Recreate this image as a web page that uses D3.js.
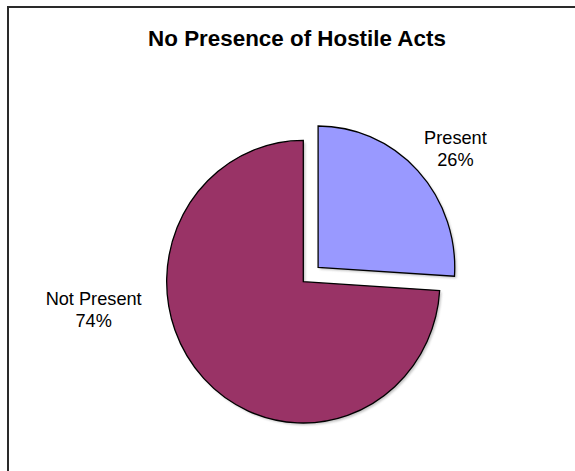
<!DOCTYPE html>
<html>
<head>
<meta charset="utf-8">
<script src="https://cdn.jsdelivr.net/npm/d3@7"></script>
<style>
  html, body { margin: 0; padding: 0; background: #fff; }
  svg { display: block; }
  text { font-family: "Liberation Sans", Arial, sans-serif; fill: #000; }
</style>
</head>
<body>
<svg id="chart" width="575" height="471"></svg>
<script>
const title = "No Presence of Hostile Acts";
const categories = ["Present", "Not Present"];
const values = [26, 74];
const colors = ["#9999FF", "#993366"];
const exploded = [true, false];

const W = 575, H = 471;
const svg = d3.select("#chart");

// frame (clipped by the image on the right and bottom)
svg.append("rect")
  .attr("x", 8).attr("y", 7)
  .attr("width", W + 20).attr("height", H + 20)
  .attr("fill", "none").attr("stroke", "#2a2a2a").attr("stroke-width", 2);

svg.append("text")
  .attr("x", 297).attr("y", 46)
  .attr("text-anchor", "middle")
  .attr("font-size", 22.4).attr("font-weight", "bold")
  .text(title);

const cx = 303.3, cy = 281.7, r = 141.3, sx = 0.967, explode = 21;
const total = d3.sum(values);
const pie = d3.pie().sort(null).startAngle(0).endAngle(2 * Math.PI)(values);
const arc = d3.arc().innerRadius(0).outerRadius(r);

const g = svg.append("g").attr("transform", `translate(${cx},${cy}) scale(${sx},1)`);

function offset(d, i) {
  if (!exploded[i]) return [0, 0];
  const a = (d.startAngle + d.endAngle) / 2;
  return [Math.sin(a) * explode, -Math.cos(a) * explode];
}

// soft shadow
const defs = svg.append("defs");
defs.append("filter").attr("id", "blur")
  .append("feGaussianBlur").attr("stdDeviation", 1);
g.selectAll("path.shadow").data(pie).join("path")
  .attr("class", "shadow")
  .attr("d", arc)
  .attr("transform", (d, i) => { const o = offset(d, i); return `translate(${o[0] + 2},${o[1] + 2})`; })
  .attr("fill", "#888").attr("opacity", 0.5).attr("filter", "url(#blur)");

g.selectAll("path.slice").data(pie).join("path")
  .attr("class", "slice")
  .attr("d", arc)
  .attr("transform", (d, i) => { const o = offset(d, i); return `translate(${o[0]},${o[1]})`; })
  .attr("fill", (d, i) => colors[i])
  .attr("stroke", "#000").attr("stroke-width", 1.3)
  .attr("vector-effect", "non-scaling-stroke")
  .attr("stroke-linejoin", "miter");

// labels
const fmt = v => Math.round(v / total * 100) + "%";
const labelPos = (d, i) => {
  if (i === 0) {
    const a = (d.startAngle + d.endAngle) / 2;
    return [cx + Math.sin(a) * (r + 66) * sx + 6, cy - Math.cos(a) * (r + 66) + 4];
  }
  return [cx - r * sx - 73, cy + 23];
};
pie.forEach((d, i) => {
  const p = labelPos(d, i);
  const t = svg.append("text")
    .attr("text-anchor", "middle")
    .attr("font-size", 18.2)
    .attr("x", p[0]).attr("y", p[1]);
  t.append("tspan").attr("x", p[0]).attr("dy", 0).text(categories[i]);
  t.append("tspan").attr("x", p[0]).attr("dy", 22).text(fmt(values[i]));
});
</script>
</body>
</html>
